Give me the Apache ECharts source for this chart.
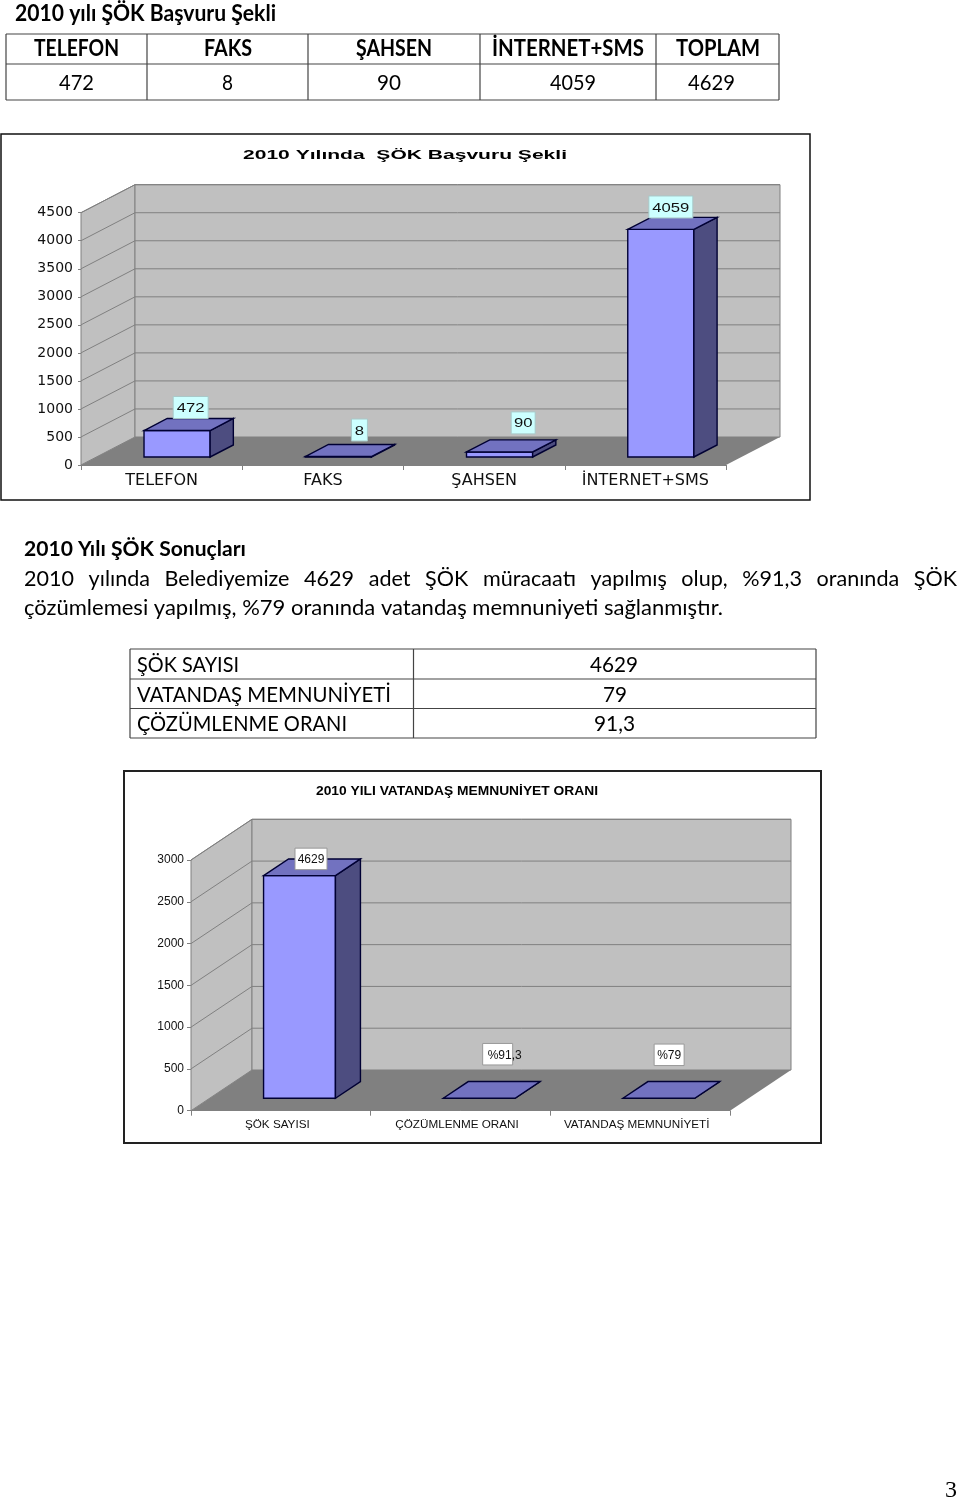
<!DOCTYPE html>
<html><head><meta charset="utf-8">
<style>html,body{margin:0;padding:0;background:#fff}#c{width:960px;height:1500px}</style>
<script src="https://cdn.jsdelivr.net/npm/echarts@6/dist/echarts.min.js"></script>
</head><body><div id="c"></div>
<script>
// ---- data ----
const table1Head = ['TELEFON','FAKS','ŞAHSEN','İNTERNET+SMS','TOPLAM'];
const table1Vals = ['472','8','90','4059','4629'];
const chart1Title = '2010 Yılında  ŞÖK Başvuru Şekli';
const chart1Cats = ['TELEFON','FAKS','ŞAHSEN','İNTERNET+SMS'];
const chart1Values = [472,8,90,4059];
const chart1Labels = ['472','8','90','4059'];
const chart1Ticks = [0,500,1000,1500,2000,2500,3000,3500,4000,4500];
const table2Rows = ['ŞÖK SAYISI','VATANDAŞ MEMNUNİYETİ','ÇÖZÜMLENME ORANI'];
const table2Vals = ['4629','79','91,3'];
const chart2Title = '2010 YILI VATANDAŞ MEMNUNİYET ORANI';
const chart2Cats = ['ŞÖK SAYISI','ÇÖZÜMLENME ORANI','VATANDAŞ MEMNUNİYETİ'];
const chart2Values = [2664,0,0];   // drawn bar heights
const chart2Labels = ['4629','%91,3','%79'];
const chart2Ticks = [0,500,1000,1500,2000,2500,3000];
const heading1 = '2010 yılı ŞÖK Başvuru Şekli';
const heading2 = '2010 Yılı ŞÖK Sonuçları';
const para1 = '2010 yılında Belediyemize 4629 adet ŞÖK müracaatı yapılmış olup, %91,3 oranında ŞÖK';
const para2 = 'çözümlemesi yapılmış, %79 oranında vatandaş memnuniyeti sağlanmıştır.';
const pageNo = '3';

// ---- layout & style ----
const SANS='"Liberation Sans"', BODY='Lato', WIDE='"DejaVu Sans"';
const COL={wall:'#c0c0c0',floor:'#808080',line:'#808080',front:'#9999ff',top:'#7272c0',side:'#4d4d80',edge:'#000033'};
const C1={dx:54,dy:-28,barW:.41,frac:.286,bd:.43,font:13,scale:1.28,fill:'#ccffff',stroke:'#a8c8c8',boxH:22,
  boxW:[35,16,24,44],shift:[[2,0],[9.5,-3.5],[12,-6],[-1.6,.6]],txt:[0,0,0,0]};
const C2={dx:61,dy:-40.7,barW:.4,frac:.306,bd:.41,font:12,scale:1,fill:'#ffffff',stroke:'#999999',boxH:21.5,
  boxW:[32,30,30],shift:[[-1,10.7],[6,-16.6],[-2.2,-16]],txt:[0,7,0]};

const meas=document.createElement('canvas').getContext('2d');
function fit(text,x0,x1,y,size,family,weight,color){
  meas.font=(weight||'normal')+' '+size+'px '+family;
  const w=meas.measureText(text).width;
  return {type:'text',x:x0,y:y,scaleX:(x1-x0)/w,z:5,silent:true,
    style:{text:text,fontSize:size,fontFamily:family,fontWeight:weight||'normal',fill:color||'#000',align:'left',verticalAlign:'middle'}};
}
function line(x1,y1,x2,y2,c,w){return {type:'line',z:4,silent:true,shape:{x1,y1,x2,y2},style:{stroke:c||'#444',lineWidth:w||1.2}};}
function justify(text,x0,x1,y,size,family,fs){
  meas.font=size+'px '+family;
  const words=text.split(' ');
  const ws=words.map(w=>meas.measureText(w).width*fs);
  const gap=(x1-x0-ws.reduce((a,b)=>a+b,0))/(words.length-1);
  let x=x0;const out=[];
  words.forEach((w,i)=>{out.push(fit(w,x,x+ws[i],y,size,family));x+=ws[i]+gap;});
  return out;
}
const g=[];
// headings and tables
g.push(fit(heading1,15,276,13.5,22,BODY,'bold'));
[6,147,308,480,656,779].forEach(x=>g.push(line(x,34,x,100)));
[34,64,100].forEach(y=>g.push(line(6,y,779,y)));
[[34,119],[204,252],[356,432],[492,644],[676,760]].forEach((r,i)=>g.push(fit(table1Head[i],r[0],r[1],49,22,BODY,'bold')));
[[59,94],[222,233],[377,401],[550,596],[688,735]].forEach((r,i)=>g.push(fit(table1Vals[i],r[0],r[1],82.5,22,BODY)));
g.push({type:'rect',z:1,silent:true,shape:{x:1,y:134,width:809,height:366},style:{fill:'none',stroke:'#111',lineWidth:1.5}});
g.push(fit(chart1Title,243,567,155,13,SANS,'bold'));
g.push(fit(heading2,24,246,549.5,21,BODY,'bold'));
g.push(...justify(para1,24,957,578.5,22,BODY,.98));
g.push(fit(para2,24,723,607.5,22,BODY));
[130,413.5,816].forEach(x=>g.push(line(x,649,x,738)));
[649,679,708.5,738].forEach(y=>g.push(line(130,y,816,y)));
[[137,239,665],[137,391,694.5],[137,347,724]].forEach((r,i)=>g.push(fit(table2Rows[i],r[0],r[1],r[2],22,BODY)));
[[590,638,665],[603,627,694.5],[594,635,724]].forEach((r,i)=>g.push(fit(table2Vals[i],r[0],r[1],r[2],22,BODY)));
g.push({type:'rect',z:1,silent:true,shape:{x:124,y:771,width:697,height:372},style:{fill:'none',stroke:'#222',lineWidth:2}});
g.push(fit(chart2Title,316,598,792,12.5,SANS,'bold'));
g.push({type:'text',x:951,y:1491,z:5,silent:true,style:{text:pageNo,fontSize:24,fontFamily:'"Liberation Serif"',fill:'#000',align:'center',verticalAlign:'middle'}});

function poly(pts,fill,stroke,w){return {type:'polygon',shape:{points:pts},style:{fill:fill,stroke:stroke||null,lineWidth:w||1}};}

function wallRender(cfg){return function(params,api){
  const cs=params.coordSys, v=api.value(1), x0=cs.x, x1=cs.x+cs.width, y1=cs.y+cs.height, y0=cs.y;
  const d=[cfg.dx,cfg.dy], ch=[];
  if(params.dataIndex===0){
    ch.push(poly([[x0,y1],[x0,y0],[x0+d[0],y0+d[1]],[x0+d[0],y1+d[1]]],COL.wall,COL.line));
    ch.push(poly([[x0+d[0],y0+d[1]],[x1+d[0],y0+d[1]],[x1+d[0],y1+d[1]],[x0+d[0],y1+d[1]]],COL.wall,COL.line));
    ch.push(poly([[x0,y1],[x0+d[0],y1+d[1]],[x1+d[0],y1+d[1]],[x1,y1]],COL.floor));
  }
  const X=x0, Y=api.coord([0,v])[1];
  if(v>0){
    ch.push({type:'polyline',shape:{points:[[X,Y],[X+d[0],Y+d[1]],[x1+d[0],Y+d[1]]]},style:{stroke:COL.line,lineWidth:1,fill:null}});
  }
  return {type:'group',children:ch};
};}
function barRender(cfg,labels){return function(params,api){
  const i=api.value(0), v=api.value(1), base=api.coord([i,0]), top=api.coord([i,v]), band=api.size([1,0])[0];
  const w=band*cfg.barW, ox=cfg.dx*cfg.frac, oy=cfg.dy*cfg.frac, bx=cfg.dx*cfg.bd, by=cfg.dy*cfg.bd;
  const L=base[0]+ox-w/2, R=L+w, B=base[1]+oy, T=top[1]+oy, E=COL.edge;
  const ch=[
    poly([[L,T],[R,T],[R,B],[L,B]],COL.front,E,1.4),
    poly([[R,T],[R+bx,T+by],[R+bx,B+by],[R,B]],COL.side,E,1.4),
    poly([[L,T],[L+bx,T+by],[R+bx,T+by],[R,T]],COL.top,E,1.4)
  ];
  const idx=params.dataIndex, cx=(L+R)/2+bx/2+cfg.shift[idx][0], bot=T+by+cfg.shift[idx][1];
  ch.push({type:'rect',shape:{x:cx-cfg.boxW[idx]/2,y:bot-cfg.boxH,width:cfg.boxW[idx],height:cfg.boxH},style:{fill:cfg.fill,stroke:cfg.stroke,lineWidth:1}});
  ch.push({type:'text',x:cx+cfg.txt[idx],y:bot-cfg.boxH/2+1,scaleX:cfg.scale,style:{text:labels[idx],fontSize:cfg.font,fontFamily:SANS,fill:'#111',align:'center',verticalAlign:'middle'}});
  return {type:'group',children:ch};
};}
function axes(idx,cats,max,fam,xfs,yfs,tickLen,yMargin,xMargin,xPad){
  const lineS={lineStyle:{color:COL.line,width:1}};
  return {
    x:{type:'category',gridIndex:idx,data:cats,boundaryGap:true,axisLine:{show:true,...lineS},
       axisTick:{show:true,length:5,alignWithLabel:false,...lineS},
       axisLabel:{interval:0,fontFamily:fam,fontSize:xfs,color:'#111',margin:xMargin,hideOverlap:false,padding:xPad},splitLine:{show:false}},
    y:{type:'value',gridIndex:idx,min:0,max:max,interval:500,axisLine:{show:true,...lineS},
       axisTick:{show:true,length:tickLen,...lineS},
       axisLabel:{formatter:v=>String(v),fontFamily:fam,fontSize:yfs,color:'#111',margin:yMargin,padding:[4,0,0,0]},splitLine:{show:false}}
  };
}
const a1=axes(0,chart1Cats,4500,WIDE,16,14,3,8,8,[0,0,0,0]), a2=axes(1,chart2Cats,3000,SANS,11.7,12,4,7,8,[0,7,0,0]);
const chart=echarts.init(document.getElementById('c'),null,{width:960,height:1500,renderer:'canvas'});
chart.setOption({
  animation:false,backgroundColor:'#fff',
  graphic:{elements:g},
  grid:[{left:81,top:212.7,width:645,height:252.3,containLabel:false},{left:191,top:860,width:539,height:250.7,containLabel:false}],
  xAxis:[a1.x,a2.x],yAxis:[a1.y,a2.y],
  tooltip:{show:false},
  series:[
    {type:'custom',name:'walls1',xAxisIndex:0,yAxisIndex:0,z:1,silent:true,renderItem:wallRender(C1),encode:{x:0,y:1},data:chart1Ticks.map(v=>[0,v])},
    {type:'custom',name:'Başvuru',xAxisIndex:0,yAxisIndex:0,z:3,silent:true,renderItem:barRender(C1,chart1Labels),encode:{x:0,y:1},data:chart1Values.map((v,i)=>[i,v])},
    {type:'custom',name:'walls2',xAxisIndex:1,yAxisIndex:1,z:1,silent:true,renderItem:wallRender(C2),encode:{x:0,y:1},data:chart2Ticks.map(v=>[0,v])},
    {type:'custom',name:'Memnuniyet',xAxisIndex:1,yAxisIndex:1,z:3,silent:true,renderItem:barRender(C2,chart2Labels),encode:{x:0,y:1},data:chart2Values.map((v,i)=>[i,v])}
  ]
});
</script></body></html>
